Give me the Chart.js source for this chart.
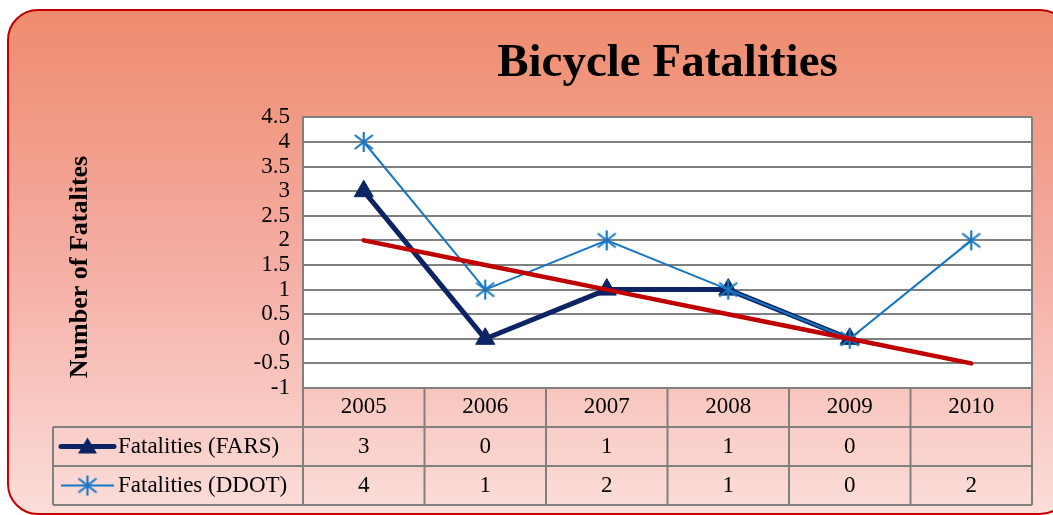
<!DOCTYPE html>
<html>
<head>
<meta charset="utf-8">
<script src="https://cdn.jsdelivr.net/npm/chart.js@4.4.0/dist/chart.umd.min.js"></script>
<style>
  html, body { margin: 0; padding: 0; background: #fff; }
</style>
</head>
<body>
<canvas id="chart" width="1053" height="515"></canvas>
<script>
// data
const years = ['2005', '2006', '2007', '2008', '2009', '2010'];
const farsValues = [3, 0, 1, 1, 0, null];
const ddotValues = [4, 1, 2, 1, 0, 2];
const trendValues = [2, 1.5, 1, 0.5, 0, -0.5];
const farsLabel = 'Fatalities (FARS)';
const ddotLabel = 'Fatalities (DDOT)';

const SERIF = "'Liberation Serif', 'Times New Roman', serif";
const NAVY = '#0C2463';
const BLUE = '#1777C4';
const RED = '#C00000';
const GRID = '#808080';
const ROW_H = 39;

function makeStar(color) {
    const c = document.createElement('canvas');
    c.width = 22; c.height = 22;
    const g = c.getContext('2d');
    g.strokeStyle = color;
    g.lineWidth = 2.2;
    g.beginPath();
    g.moveTo(11, 1); g.lineTo(11, 21);
    g.moveTo(2, 4); g.lineTo(20, 18);
    g.moveTo(2, 18); g.lineTo(20, 4);
    g.stroke();
    return c;
}
const starImg = makeStar(BLUE);

function roundRect(ctx, x, y, w, h, r) {
    ctx.beginPath();
    ctx.moveTo(x + r, y);
    ctx.lineTo(x + w - r, y);
    ctx.arcTo(x + w, y, x + w, y + r, r);
    ctx.lineTo(x + w, y + h - r);
    ctx.arcTo(x + w, y + h, x + w - r, y + h, r);
    ctx.lineTo(x + r, y + h);
    ctx.arcTo(x, y + h, x, y + h - r, r);
    ctx.lineTo(x, y + r);
    ctx.arcTo(x, y, x + r, y, r);
    ctx.closePath();
}

const backdrop = {
    id: 'backdrop',
    beforeDraw(chart) {
        const { ctx, chartArea: a } = chart;
        ctx.save();
        ctx.fillStyle = '#fff';
        ctx.fillRect(0, 0, chart.width, chart.height);
        const grad = ctx.createLinearGradient(0, 10, 0, 515);
        grad.addColorStop(0, '#EE8B6D');
        grad.addColorStop(0.5, '#F5ADA3');
        grad.addColorStop(1, '#FBDEDA');
        roundRect(ctx, 8, 10, 1062, 504, 30);
        ctx.fillStyle = grad;
        ctx.fill();
        ctx.strokeStyle = RED;
        ctx.lineWidth = 2;
        ctx.stroke();
        ctx.fillStyle = '#fff';
        ctx.fillRect(a.left, a.top, a.right - a.left, a.bottom - a.top);
        ctx.restore();
    },
    afterDraw(chart) {
        const { ctx, chartArea: a } = chart;
        const x = chart.scales.x;
        const half = (x.getPixelForValue(1) - x.getPixelForValue(0)) / 2;
        const tableLeft = 53;
        const r1 = a.bottom + ROW_H, r2 = r1 + ROW_H, r3 = r2 + ROW_H;
        ctx.save();
        ctx.strokeStyle = GRID;
        ctx.lineWidth = 2;
        ctx.beginPath();
        // right border of plot
        ctx.moveTo(a.right, a.top); ctx.lineTo(a.right, a.bottom);
        // column lines
        years.forEach((_, i) => {
            const px = x.getPixelForValue(i) - half;
            ctx.moveTo(px, a.bottom); ctx.lineTo(px, r3);
        });
        ctx.moveTo(a.right, a.bottom); ctx.lineTo(a.right, r3);
        ctx.moveTo(tableLeft, r1); ctx.lineTo(tableLeft, r3);
        [r1, r2, r3].forEach(y => { ctx.moveTo(tableLeft, y); ctx.lineTo(a.right, y); });
        ctx.stroke();

        // legend keys
        const cy1 = r1 + ROW_H / 2, cy2 = r2 + ROW_H / 2;
        ctx.lineCap = 'round';
        ctx.strokeStyle = NAVY;
        ctx.lineWidth = 5;
        ctx.beginPath(); ctx.moveTo(61, cy1); ctx.lineTo(114, cy1); ctx.stroke();
        ctx.fillStyle = NAVY;
        ctx.beginPath();
        ctx.moveTo(87.5, cy1 - 9); ctx.lineTo(97, cy1 + 7); ctx.lineTo(78, cy1 + 7); ctx.closePath();
        ctx.fill();
        ctx.strokeStyle = BLUE;
        ctx.lineWidth = 2;
        ctx.lineCap = 'butt';
        ctx.beginPath(); ctx.moveTo(61, cy2); ctx.lineTo(114, cy2); ctx.stroke();
        ctx.drawImage(starImg, 87.5 - 11, cy2 - 11);

        // row texts
        ctx.fillStyle = '#000';
        ctx.font = '23px ' + SERIF;
        ctx.textBaseline = 'middle';
        ctx.textAlign = 'left';
        ctx.fillText(farsLabel, 118, cy1);
        ctx.fillText(ddotLabel, 118, cy2);
        ctx.textAlign = 'center';
        years.forEach((_, i) => {
            const px = x.getPixelForValue(i);
            if (farsValues[i] !== null) ctx.fillText(String(farsValues[i]), px, cy1);
            if (ddotValues[i] !== null) ctx.fillText(String(ddotValues[i]), px, cy2);
        });

        // y axis title
        ctx.font = 'bold 26px ' + SERIF;
        ctx.translate(80, 267);
        ctx.rotate(-Math.PI / 2);
        ctx.fillText('Number of Fatalites', 0, 0);
        ctx.restore();
    }
};

new Chart(document.getElementById('chart'), {
    type: 'line',
    data: {
        labels: years,
        datasets: [
            {
                label: 'Linear (Fatalities (FARS))',
                data: trendValues,
                borderColor: RED,
                borderWidth: 4.5,
                borderCapStyle: 'round',
                pointRadius: 0,
                order: 0
            },
            {
                label: ddotLabel,
                data: ddotValues,
                borderColor: BLUE,
                borderWidth: 2,
                pointStyle: starImg,
                pointRadius: 10,
                order: 1
            },
            {
                label: farsLabel,
                data: farsValues,
                borderColor: NAVY,
                backgroundColor: NAVY,
                borderWidth: 5,
                borderJoinStyle: 'round',
                pointStyle: 'triangle',
                pointRadius: 11,
                pointBorderWidth: 1,
                pointBackgroundColor: NAVY,
                order: 2
            }
        ]
    },
    options: {
        responsive: false,
        animation: false,
        devicePixelRatio: 1,
        layout: { padding: { top: 0, right: 21, bottom: 0, left: 0 } },
        plugins: {
            legend: { display: false },
            tooltip: { enabled: false },
            title: {
                display: true,
                text: 'Bicycle Fatalities',
                fullSize: false,
                color: '#000',
                font: { family: SERIF, size: 47, weight: 'bold' },
                padding: { top: 36, bottom: 25 }
            }
        },
        scales: {
            x: {
                type: 'category',
                offset: true,
                grid: { display: false },
                border: { display: false },
                ticks: { color: '#000', font: { family: SERIF, size: 23, lineHeight: 1 }, padding: -1, maxRotation: 0 },
                afterFit: s => { s.height = 127; }
            },
            y: {
                min: -1,
                max: 4.5,
                ticks: {
                    stepSize: 0.5,
                    autoSkip: false,
                    color: '#000',
                    font: { family: SERIF, size: 23, lineHeight: 1 },
                    padding: 13,
                    callback: v => String(v)
                },
                grid: { color: GRID, lineWidth: 2, drawTicks: false },
                border: { display: true, color: GRID, width: 2 },
                afterFit: s => { s.width = 303; }
            }
        }
    },
    plugins: [backdrop]
});
</script>
</body>
</html>
